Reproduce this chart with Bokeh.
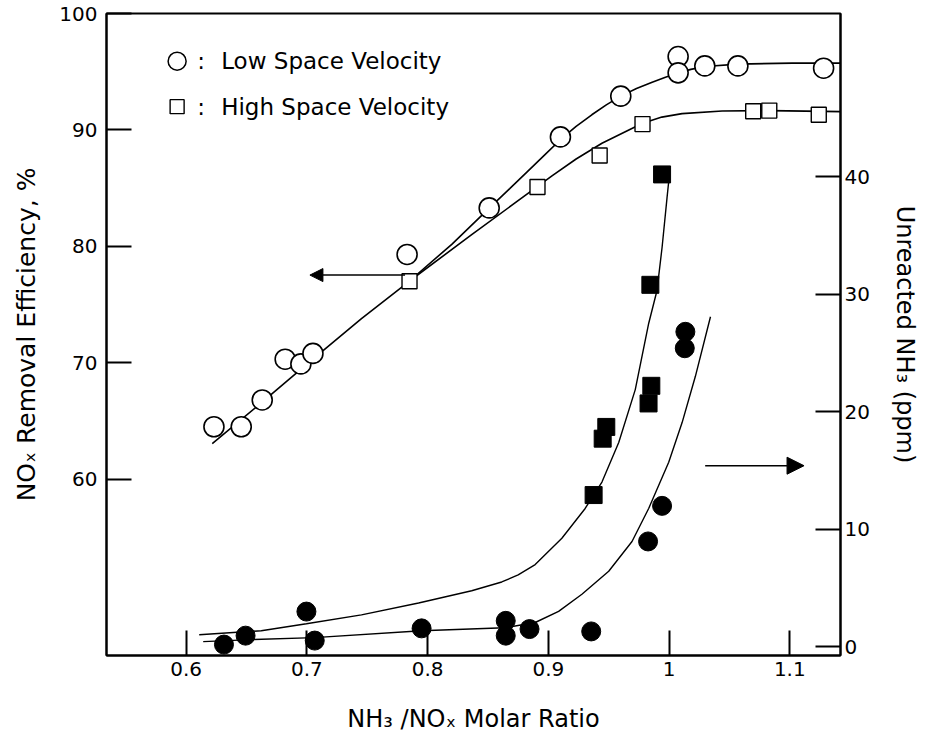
from bokeh.plotting import figure
from bokeh.models import Range1d, LinearAxis, FixedTicker, Arrow, NormalHead
from bokeh.core.properties import value
from bokeh.embed import file_html
from bokeh.resources import INLINE

# ---- data ----
# NOx removal efficiency (left axis, %)
low_sv_x = [0.623, 0.6456, 0.663, 0.682, 0.695, 0.705, 0.783, 0.851, 0.910, 0.960, 1.0075, 1.0075, 1.0296, 1.057, 1.128]
low_sv_y = [64.5, 64.5, 66.8, 70.3, 69.9, 70.8, 79.3, 83.3, 89.4, 92.9, 96.3, 94.9, 95.5, 95.5, 95.3]
high_sv_x = [0.785, 0.891, 0.9425, 0.978, 1.0697, 1.083, 1.124]
high_sv_y = [77.0, 85.1, 87.8, 90.5, 91.6, 91.66, 91.3]

# fitted curves (left axis)
low_fit_x = [0.6216, 0.6622, 0.7037, 0.7452, 0.785, 0.820, 0.8515, 0.868, 0.882, 0.897, 0.9104, 0.923, 0.936, 0.948, 0.960, 0.973, 0.986, 0.997, 1.0075, 1.018, 1.0299, 1.057, 1.102, 1.1436]
low_fit_y = [63.06, 66.55, 70.21, 73.79, 77.02, 80.17, 83.32, 84.95, 86.35, 87.85, 89.20, 90.30, 91.30, 92.15, 92.90, 93.55, 94.10, 94.52, 94.88, 95.20, 95.45, 95.65, 95.74, 95.74]
high_fit_x = [0.785, 0.8365, 0.8905, 0.903, 0.923, 0.9444, 0.9776, 0.994, 1.0108, 1.044, 1.083, 1.1436]
high_fit_y = [77.02, 81.0, 85.1, 86.05, 87.50, 88.85, 90.55, 91.10, 91.40, 91.62, 91.66, 91.57]

# Unreacted NH3 (right axis, ppm)
nh3_high_x = [0.9942, 0.9845, 0.9853, 0.983, 0.948, 0.945, 0.9375]
nh3_high_y = [40.2, 30.8, 22.2, 20.7, 18.7, 17.7, 12.9]
nh3_low_x = [0.6313, 0.6492, 0.6996, 0.7065, 0.795, 0.8647, 0.8647, 0.8844, 0.9355, 0.9826, 0.9942, 1.0135, 1.013]
nh3_low_y = [0.17, 0.93, 2.98, 0.51, 1.55, 2.19, 0.93, 1.49, 1.29, 8.95, 11.98, 26.8, 25.4]

nh3_high_fit_x = [0.6108, 0.6622, 0.6996, 0.7452, 0.7925, 0.8365, 0.8614, 0.875, 0.8891, 0.9112, 0.9305, 0.9444, 0.9583, 0.9720, 0.9831, 0.9900, 0.9942, 0.9983, 0.9997]
nh3_high_fit_y = [1.01, 1.35, 1.94, 2.70, 3.71, 4.75, 5.50, 6.10, 6.98, 9.22, 11.76, 14.01, 17.38, 21.88, 27.51, 30.32, 33.98, 38.20, 39.60]
nh3_low_fit_x = [0.6141, 0.6539, 0.7062, 0.795, 0.8639, 0.8891, 0.9085, 0.9278, 0.9500, 0.9693, 0.9831, 0.9997, 1.0108, 1.0218, 1.0343]
nh3_low_fit_y = [0.42, 0.59, 0.76, 1.35, 1.60, 2.05, 3.00, 4.45, 6.41, 8.95, 11.76, 15.70, 19.07, 23.01, 28.08]

x_ticks = [0.6, 0.7, 0.8, 0.9, 1.0, 1.1]
left_ticks = [60, 70, 80, 90, 100]
right_ticks = [0, 10, 20, 30, 40]

legend_labels = ["Low Space Velocity", "High Space Velocity"]

FONT = "DejaVu Sans"

p = figure(width=925, height=738,
           x_range=Range1d(0.534, 1.142), y_range=Range1d(44.85, 100),
           output_backend="svg", toolbar_location=None,
           min_border_left=106, min_border_right=85,
           min_border_top=13, min_border_bottom=83)
p.extra_y_ranges = {"right": Range1d(-0.76, 53.9)}
p.background_fill_color = "white"
p.border_fill_color = "white"
p.outline_line_color = "black"
p.outline_line_width = 2
p.xgrid.visible = False
p.ygrid.visible = False

right_axis = LinearAxis(y_range_name="right")
p.add_layout(right_axis, "right")

p.xaxis.ticker = FixedTicker(ticks=x_ticks)
p.xaxis.major_label_overrides = {1.0: "1"}
p.yaxis[0].ticker = FixedTicker(ticks=left_ticks)
right_axis.ticker = FixedTicker(ticks=right_ticks)

for ax in [p.xaxis[0], p.yaxis[0], right_axis]:
    ax.major_tick_in = 25
    ax.major_tick_out = 0
    ax.minor_tick_in = 0
    ax.minor_tick_out = 0
    ax.axis_line_width = 2
    ax.axis_line_color = "black"
    ax.major_tick_line_width = 2
    ax.major_tick_line_color = "black"
    ax.major_label_text_font = FONT
    ax.major_label_text_font_size = "20px"
    ax.major_label_text_color = "black"
    ax.axis_label_text_font = FONT
    ax.axis_label_text_font_style = "normal"
    ax.axis_label_text_color = "black"

p.yaxis[0].axis_label_text_font_size = "25px"
p.xaxis[0].axis_label_text_font_size = "24px"
right_axis.axis_label_text_font_size = "24px"

p.yaxis[0].major_label_standoff = 9
p.xaxis[0].major_label_standoff = 6
right_axis.major_label_standoff = 4

p.xaxis[0].axis_label = "NH\u2083 /NO\u2093 Molar Ratio"
p.yaxis[0].axis_label = "NO\u2093 Removal Efficiency, %"
right_axis.axis_label = "Unreacted NH\u2083 (ppm)"
p.xaxis[0].axis_label_standoff = 26
p.yaxis[0].axis_label_standoff = 15
right_axis.axis_label_standoff = 18

# fitted curves
p.line(low_fit_x, low_fit_y, line_color="black", line_width=1.6)
p.line(high_fit_x, high_fit_y, line_color="black", line_width=1.6)
p.line(nh3_high_fit_x, nh3_high_fit_y, line_color="black", line_width=1.4, y_range_name="right")
p.line(nh3_low_fit_x, nh3_low_fit_y, line_color="black", line_width=1.4, y_range_name="right")

# markers
p.scatter(low_sv_x, low_sv_y, marker="circle", size=20, fill_color="white", line_color="black", line_width=1.6)
p.scatter(high_sv_x, high_sv_y, marker="square", size=15, fill_color="white", line_color="black", line_width=1.4)
p.scatter(nh3_high_x, nh3_high_y, marker="square", size=17, fill_color="black", line_color="black", y_range_name="right")
p.scatter(nh3_low_x, nh3_low_y, marker="circle", size=19, fill_color="black", line_color="black", y_range_name="right")

# arrows pointing to the relevant axes
p.add_layout(Arrow(end=NormalHead(size=13, fill_color="black", line_color="black"),
                   x_start=0.7813, y_start=77.53, x_end=0.7025, y_end=77.53,
                   line_color="black", line_width=1.4))
p.add_layout(Arrow(end=NormalHead(size=17, fill_color="black", line_color="black"),
                   x_start=1.0299, y_start=15.4, x_end=1.1118, y_end=15.4,
                   line_color="black", line_width=1.4, y_range_name="right"))

# legend (hand drawn, as in the original)
leg_y = [95.9, 92.0]
p.scatter([0.5925], [leg_y[0]], marker="circle", size=18, fill_color="white", line_color="black", line_width=1.5)
p.scatter([0.5925], [leg_y[1]], marker="square", size=14, fill_color="white", line_color="black", line_width=1.4)
p.text([0.6124, 0.6124], leg_y, text=[":", ":"], text_font=value(FONT), text_font_size="23px",
       text_baseline="middle", text_align="center", text_color="black")
p.text([0.629, 0.629], leg_y, text=legend_labels, text_font=value(FONT), text_font_size="23px",
       text_baseline="middle", text_align="left", text_color="black")

open("out.html", "w").write(file_html(p, INLINE))
